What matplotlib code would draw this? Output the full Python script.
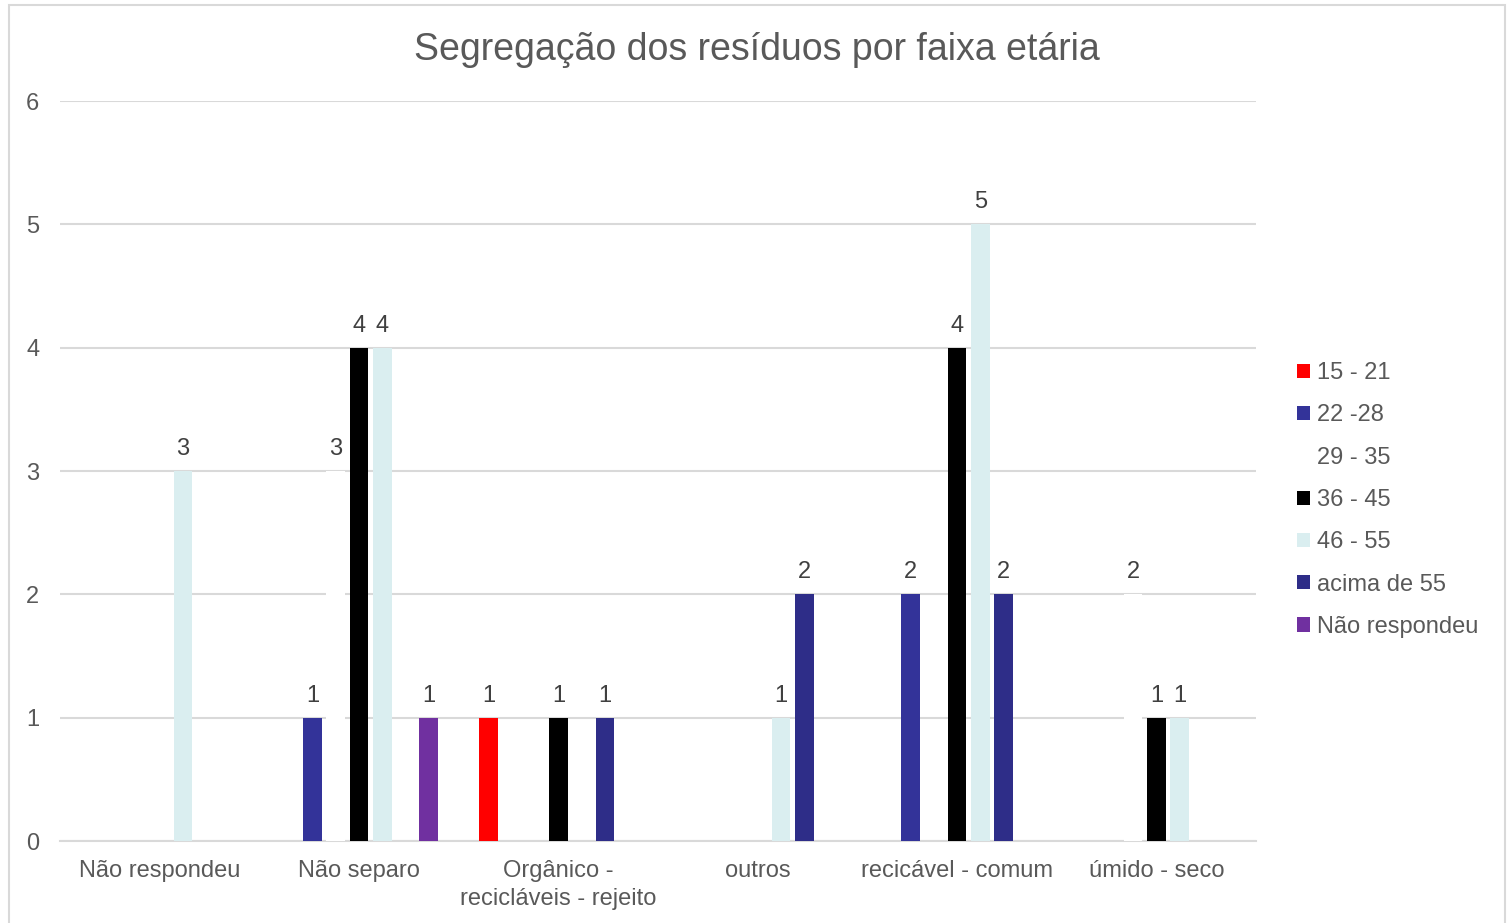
import numpy as np
import matplotlib
matplotlib.use("Agg")
import matplotlib.pyplot as plt
from matplotlib.patches import Rectangle

plt.rcParams['font.family'] = ['Liberation Sans', 'DejaVu Sans']

categories = ["Não respondeu", "Não separo", "Orgânico -\nrecicláveis - rejeito",
              "outros", "recicável - comum", "úmido - seco"]
series_names = ["15 - 21", "22 -28", "29 - 35", "36 - 45", "46 - 55", "acima de 55", "Não respondeu"]
nan = np.nan
s_15_21 = [nan, nan, 1, nan, nan, nan]
s_22_28 = [nan, 1, nan, nan, 2, nan]
s_29_35 = [nan, 3, nan, nan, nan, 2]
s_36_45 = [nan, 4, 1, nan, 4, 1]
s_46_55 = [3, 4, nan, 1, 5, 1]
s_acima_55 = [nan, nan, 1, 2, 2, nan]
s_nao_resp = [nan, 1, nan, nan, nan, nan]
series_values = [s_15_21, s_22_28, s_29_35, s_36_45, s_46_55, s_acima_55, s_nao_resp]
colors = ["#FF0000", "#333399", "#FFFFFF", "#000000", "#DAEEF0", "#2E2D88", "#7030A0"]

text_col = "#595959"
fig = plt.figure(figsize=(15.11, 9.23), dpi=100)
ax = fig.add_axes([60/1511, 82/923, 1196/1511, 740/923])

x = np.arange(len(categories))
step = 0.117
width = 0.095
for i, (name, vals, c) in enumerate(zip(series_names, series_values, colors)):
    pos = x + (i - 3) * step
    v = np.array(vals, dtype=float)
    ax.bar(pos, np.nan_to_num(v), width, color=c, label=name, zorder=3)
    for p, val in zip(pos, v):
        if not np.isnan(val):
            ax.annotate(f"{int(val)}", (p, val), xytext=(0, 8), textcoords="offset points",
                        ha="center", va="bottom", fontsize=17, color="#404040", zorder=4)

ax.set_xlim(-0.5, len(categories) - 0.5)
ax.set_ylim(0, 6)
ax.set_yticks(range(7))
ax.set_xticks(x)
ax.set_xticklabels(categories, fontsize=17, color=text_col, linespacing=1.35)
ax.tick_params(axis="y", labelsize=17, labelcolor=text_col, length=0, pad=15)
ax.tick_params(axis="x", length=0, pad=14)
ax.grid(axis="y", color="#D9D9D9", linewidth=1.5, zorder=0)
ax.set_axisbelow(True)
for sp in ["top", "right", "left"]:
    ax.spines[sp].set_visible(False)
ax.spines["bottom"].set_color("#D9D9D9")
ax.spines["bottom"].set_linewidth(1.5)

fig.text(757/1511, 1 - 50/923, "Segregação dos resíduos por faixa etária", ha="center", va="center",
         fontsize=27, color=text_col)

leg = fig.legend(loc="center left", bbox_to_anchor=(1276/1511, 1 - 500/923), frameon=False,
                 fontsize=17, labelcolor=text_col, handlelength=0.55, handleheight=0.55,
                 handletextpad=0.3, labelspacing=0.86)

fig.patches.append(Rectangle((9/1511, -0.02), 1496/1511, 1.02 - 5/923, transform=fig.transFigure,
                             fill=False, edgecolor="#D9D9D9", linewidth=1.5))

fig.savefig("out.png", dpi=100)
